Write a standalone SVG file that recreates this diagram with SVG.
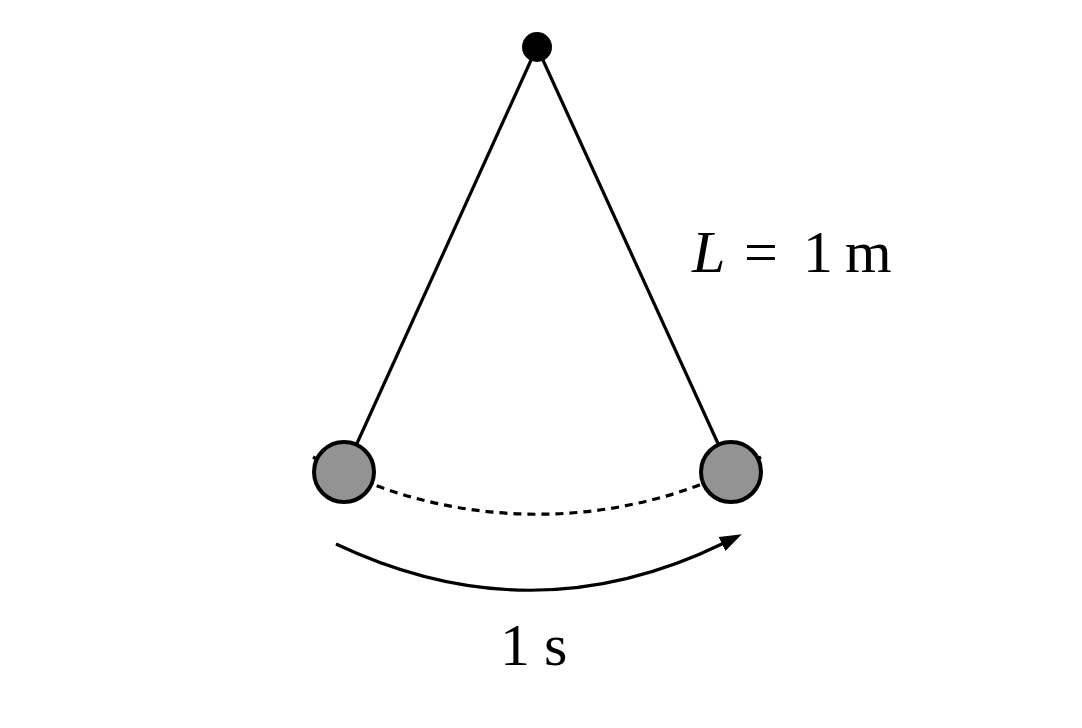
<svg xmlns="http://www.w3.org/2000/svg" width="1082" height="728" viewBox="0 0 1082 728">
<style>
.rod{stroke:#000;stroke-width:3.2;fill:none}
.bob{fill:#939393;stroke:#000;stroke-width:4}
.path{stroke:#000;stroke-width:3.2;fill:none;stroke-dasharray:8 6}
.lbl{font-family:"Liberation Serif","Times New Roman",serif;font-size:60px;fill:#000}
</style>
<defs>
<marker id="ah" markerUnits="userSpaceOnUse" viewBox="0 0 20 14" refX="2" refY="7" markerWidth="22" markerHeight="16" orient="auto">
<path d="M0,0 L20,7 L0,14 z" fill="#000"/>
</marker>
</defs>
<rect width="1082" height="728" fill="#fff"/>
<g id="connectors">
<path class="path" d="M313 457 A467 467 0 0 0 761 457"/>
<line class="rod" x1="537" y1="47" x2="344" y2="472"/>
<line class="rod" x1="537" y1="47" x2="731" y2="472"/>
<path class="rod" d="M336 544 Q532 637 724 543" marker-end="url(#ah)"/>
</g>
<g id="pivot"><circle cx="537" cy="47" r="15" fill="#000"/></g>
<g id="bob-left"><circle class="bob" cx="344" cy="472" r="30"/></g>
<g id="bob-right"><circle class="bob" cx="731" cy="472" r="30"/></g>
<g id="label-length"><text class="lbl" y="272"><tspan x="692" font-style="italic">L</tspan><tspan x="744">=</tspan><tspan x="803">1</tspan><tspan x="845">m</tspan></text></g>
<g id="label-time"><text class="lbl" y="665"><tspan x="500">1</tspan><tspan x="544">s</tspan></text></g>
</svg>
